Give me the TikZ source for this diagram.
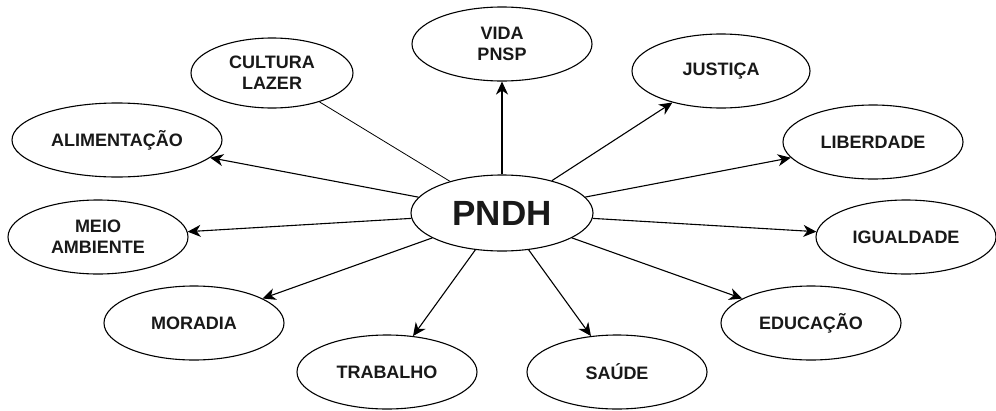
\documentclass[tikz,border=0pt]{standalone}
\usepackage{fontspec}
\setmainfont{Liberation Sans}
\usetikzlibrary{shapes.geometric,arrows.meta}
\begin{document}
\begin{tikzpicture}[x=1pt,y=-1pt,
  bub/.style={ellipse,draw=black,line width=1.1pt,fill=white,minimum width=180pt,minimum height=74pt,inner sep=0pt,align=center,font=\fontsize{18}{21}\selectfont\bfseries,text=black!90},
  arr/.style={line width=1.1pt,-{Stealth[length=13pt,width=12pt,inset=4pt]}},
  plain/.style={line width=0.8pt}]
\useasboundingbox (0,0) rectangle (996,410);
\node[bub,font=\fontsize{35}{40}\selectfont\bfseries,minimum width=182pt,minimum height=76pt] (pndh) at (502,213) {PNDH};
\node[bub] (vida) at (502,44) {VIDA\\PNSP};
\node[bub,minimum width=162pt,minimum height=70pt] (cult) at (272,73) {CULTURA\\LAZER};
\node[bub,minimum width=210pt] (alim) at (117,140) {ALIMENTAÇÃO};
\node[bub] (meio) at (98,237) {MEIO\\AMBIENTE};
\node[bub] (mora) at (194,323) {MORADIA};
\node[bub] (trab) at (387,372) {TRABALHO};
\node[bub] (saude) at (617,372) {SAÚDE};
\node[bub] (educ) at (811,323) {EDUCAÇÃO};
\node[bub] (igual) at (906,237) {IGUALDADE};
\node[bub] (liber) at (873,142) {LIBERDADE};
\node[bub,minimum width=178pt] (just) at (721,71) {JUSTIÇA};
\draw[plain] (pndh) -- (cult);
\foreach \t in {vida,alim,meio,mora,trab,saude,educ,igual,liber,just}
  \draw[arr] (pndh) -- (\t);
\end{tikzpicture}
\end{document}
